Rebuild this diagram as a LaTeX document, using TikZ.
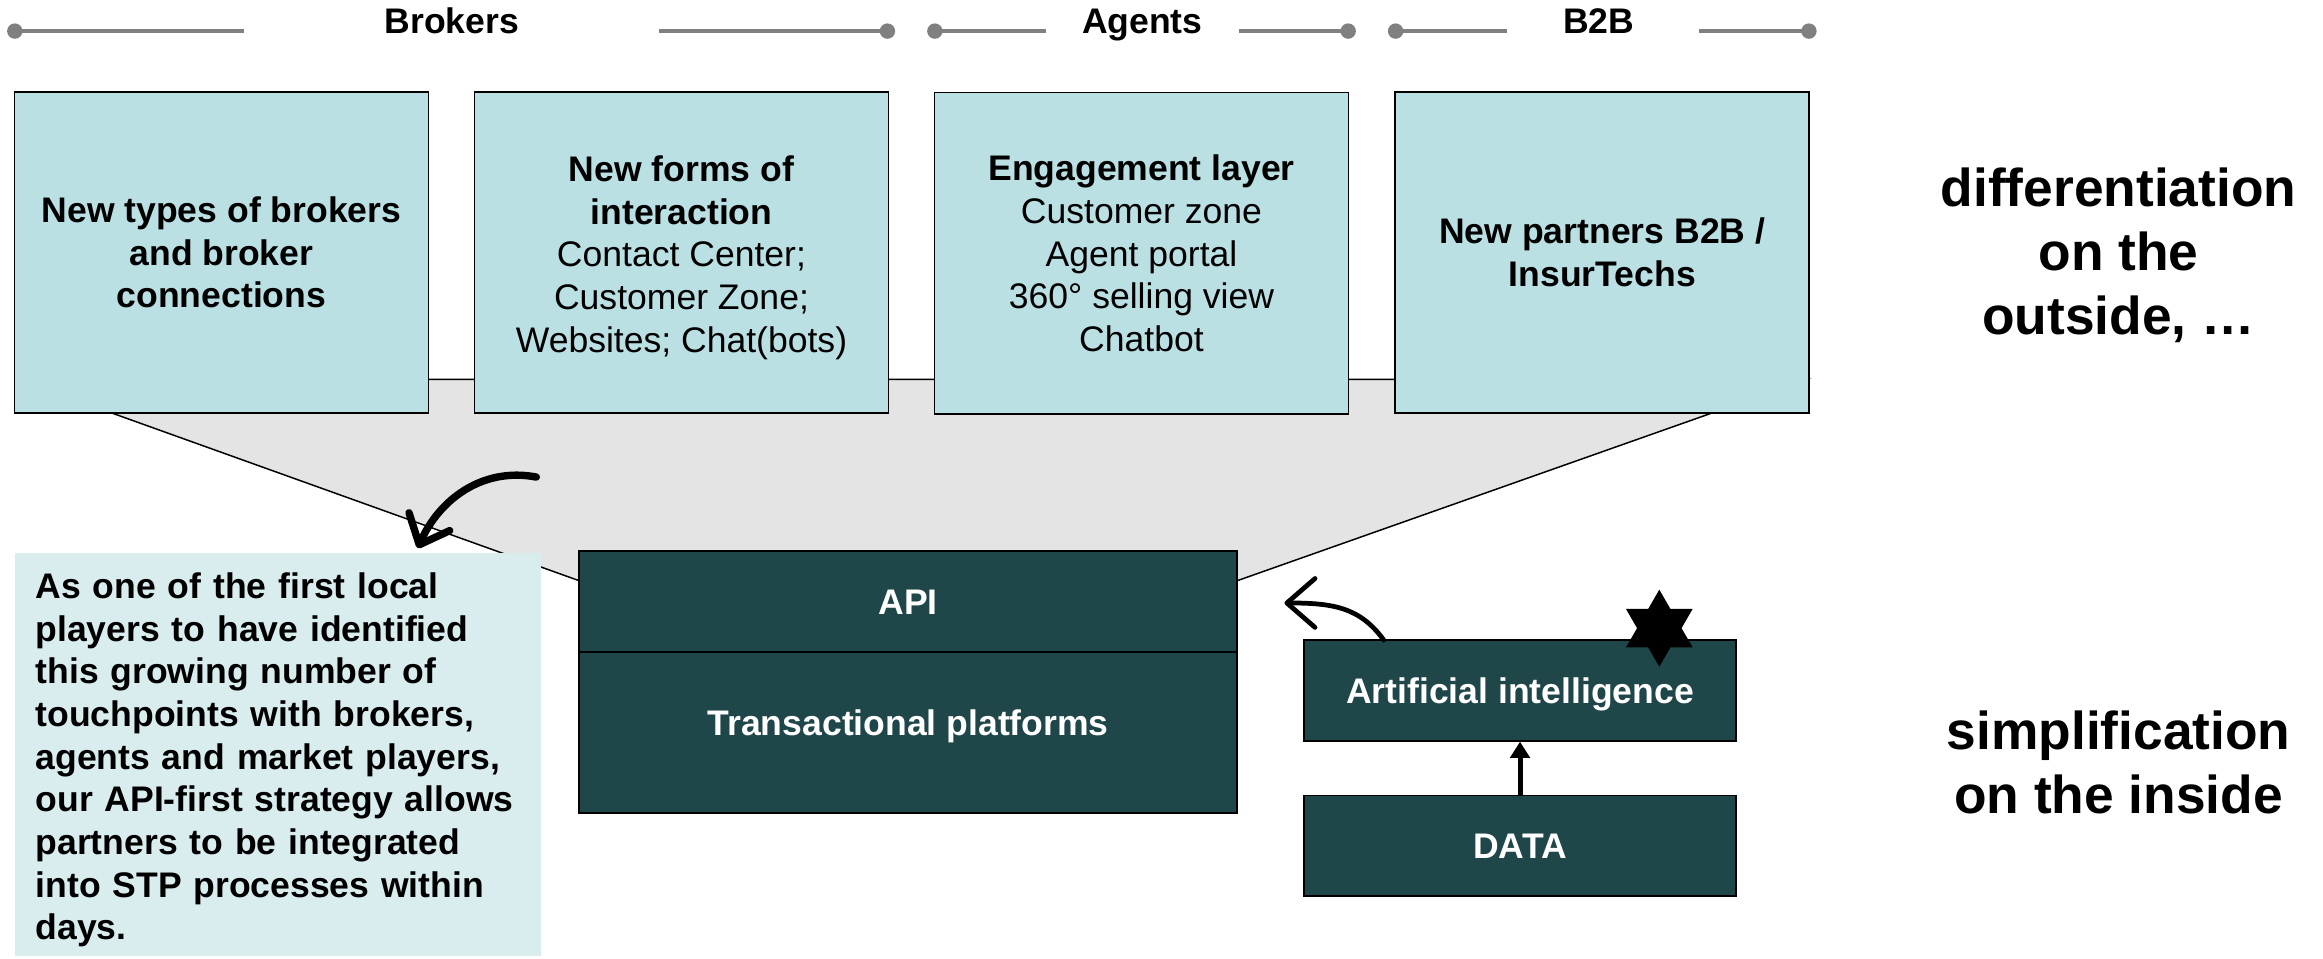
\documentclass[tikz,border=0pt]{standalone}
\usepackage{fontspec}
\setmainfont{Liberation Sans}
\usetikzlibrary{arrows.meta}

\definecolor{boxteal}{HTML}{BAE0E3}
\definecolor{notebg}{HTML}{DAEDEE}
\definecolor{deepteal}{HTML}{1F4649}
\definecolor{funnel}{HTML}{E4E4E4}
\definecolor{rulegray}{HTML}{808080}

\begin{document}
\begin{tikzpicture}[x=0.5pt,y=-0.5pt,
  channel/.style={draw=black, line width=0.6pt, fill=boxteal, minimum width=139.75pt,
    minimum height=108.5pt, inner sep=0pt, align=center, font=\fontsize{12}{14.4}\selectfont},
  ctext/.style={align=center, inner sep=0pt, font=\fontsize{12}{14.4}\selectfont},
  core/.style={draw=black, line width=0.6pt, fill=deepteal, text=white, inner sep=0pt,
    text height=8.6pt, text depth=0pt, font=\bfseries\fontsize{12}{14.4}\selectfont},
  hdrtext/.style={font=\bfseries\fontsize{12}{14.4}\selectfont, anchor=base, inner sep=0pt},
  hdrline/.style={draw=rulegray, line width=1.1pt},
  hdrdot/.style={fill=rulegray, draw=none},
  claim/.style={align=center, font=\bfseries\fontsize{18}{21.6}\selectfont, inner sep=0pt},
  bigcurve/.style={line width=2.5pt, line cap=round,
    -{Straight Barb[length=8.5pt,width=15pt,round]}},
  smallcurve/.style={line width=1.6pt, line cap=round,
    -{Straight Barb[length=9.5pt,width=16.5pt,round]}},
  feed/.style={line width=1.7pt, -{Triangle[length=5.5pt,width=6.5pt]}},
]
\useasboundingbox (0,0) rectangle (1568,647);

% funnel behind the channel boxes
\filldraw[fill=funnel, draw=black, line width=0.5pt]
  (12,256) -- (1220,256) -- (835,392) -- (391,392) -- cycle;

% section headers
\node[hdrtext] (hBro) at (305,22.5) {Brokers};
\node[hdrtext] (hAge) at (771,22.5) {Agents};
\node[hdrtext] (hB2B) at (1079,22.5) {B2B};
\draw[hdrline] (10,21) -- (165,21);
\draw[hdrline] (445,21) -- (599,21);
\draw[hdrline] (631,21) -- (706,21);
\draw[hdrline] (836,21) -- (910,21);
\draw[hdrline] (942,21) -- (1017,21);
\draw[hdrline] (1147,21) -- (1221,21);
\foreach \px in {10,599,631,910,942,1221}
  \fill[hdrdot] (\px,21) circle[radius=2.6pt];

% channel boxes
\node[channel] (b1) at (149.5,170.5) {\bfseries New types of brokers\\\bfseries and broker\\\bfseries connections};
\node[channel, label={[ctext, yshift=-1.75pt]center:{\bfseries New forms of\\\bfseries interaction\\Contact Center;\\Customer Zone;\\Websites; Chat(bots)}}] (b2) at (460,170.5) {};
\node[channel] (b3) at (770.5,171) {\bfseries Engagement layer\\Customer zone\\Agent portal\\360° selling view\\Chatbot};
\node[channel] (b4) at (1081.5,170.5) {\bfseries New partners B2B /\\\bfseries InsurTechs};

% core platform
\node[core, minimum width=222pt, minimum height=34pt] (api) at (613,406) {API};
\node[core, minimum width=222pt, minimum height=54.5pt, text depth=6.5pt] (trans) at (613,494.5) {Transactional platforms};

% data and AI
\node[core, minimum width=146pt, minimum height=34pt] (ai) at (1026,466) {Artificial intelligence};
\node[core, minimum width=146pt, minimum height=34pt] (data) at (1026,571) {DATA};
\draw[feed] (data.north) -- (ai.south);

% six-pointed star on the AI box
\fill[black] ([shift={(1120,424)}]90:26) -- ([shift={(1120,424)}]210:26) -- ([shift={(1120,424)}]330:26) -- cycle;
\fill[black] ([shift={(1120,424)}]270:26) -- ([shift={(1120,424)}]30:26) -- ([shift={(1120,424)}]150:26) -- cycle;

% AI feeding back to the API layer
\coordinate (aiTail) at (934,432);
\coordinate (aiTip) at (867,407);
\draw[smallcurve] (aiTail) .. controls (918,410) and (900,407) .. (aiTip);

% explanatory note
\node[fill=notebg, minimum width=177.5pt, minimum height=136pt, inner sep=0pt,
  label={[text width=163.5pt, align=left, inner sep=0pt, yshift=-2pt,
    font=\bfseries\fontsize{12}{14.4}\selectfont]center:{As one of the first local\\players to have identified\\this growing number of\\touchpoints with brokers,\\agents and market players,\\our API-first strategy allows\\partners to be integrated\\into STP processes within\\days.}}] (note) at (187.5,509) {};

% arrow pointing down to the note
\coordinate (noteTail) at (362,322);
\coordinate (noteTip) at (282,370);
\draw[bigcurve] (noteTail) .. controls (325,315) and (296,338) .. (noteTip);

% claims on the right
\node[claim] (diff) at (1430,172) {differentiation\\on the\\outside, …};
\node[claim] (simp) at (1430,514.5) {simplification\\on the inside};
\end{tikzpicture}
\end{document}
